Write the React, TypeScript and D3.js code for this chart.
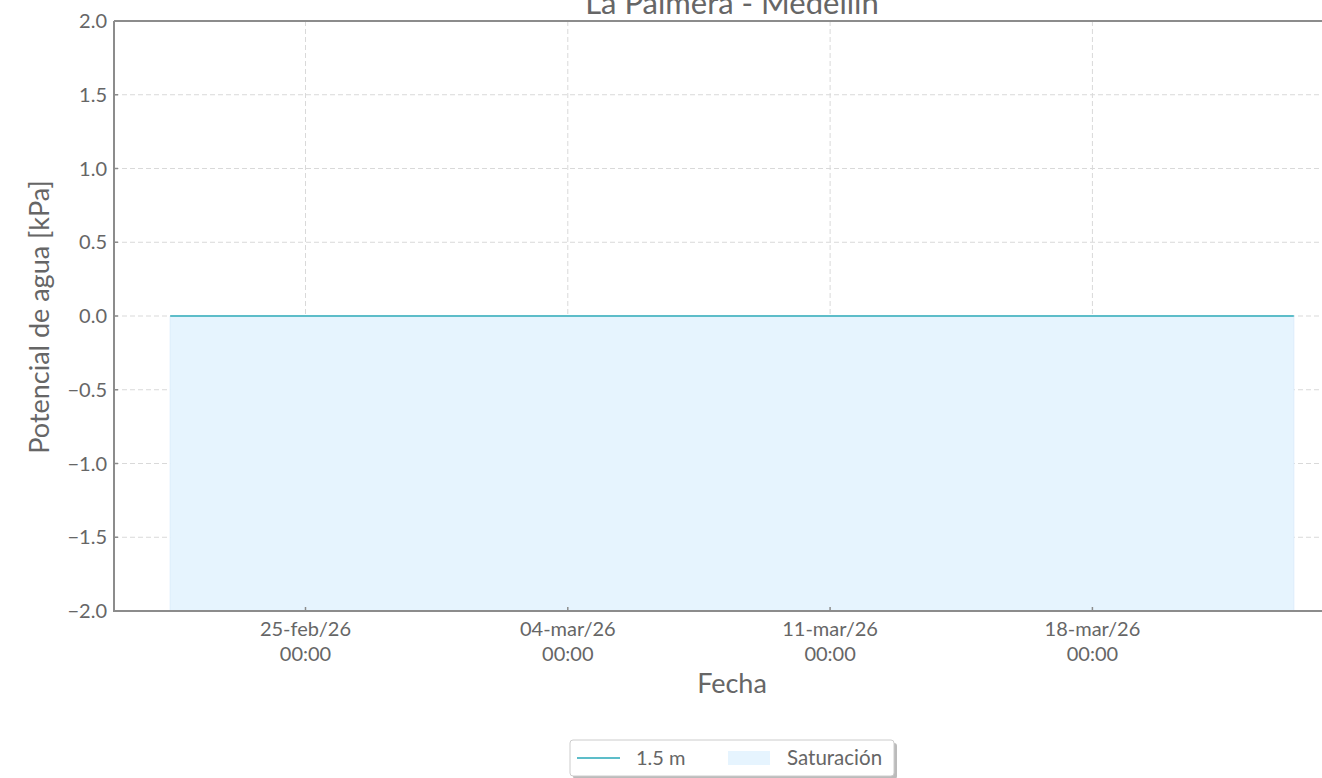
import React from "react";
import * as d3 from "d3";

const title = "La Palmera - Medellín";
const xLabel = "Fecha";
const yLabel = "Potencial de agua [kPa]";
const seriesName = "1.5 m";
const fillName = "Saturación";
// Serie 1.5 m (constant at 0 kPa over the period)
const times = ["2026-02-21T09:20", "2026-03-01T00:00", "2026-03-08T00:00", "2026-03-15T00:00", "2026-03-23T09:00"];
const values = [0, 0, 0, 0, 0];
const yTicks = [2.0, 1.5, 1.0, 0.5, 0.0, -0.5, -1.0, -1.5, -2.0];
const xTickDates = ["2026-02-25T00:00", "2026-03-04T00:00", "2026-03-11T00:00", "2026-03-18T00:00"];
const months = ["ene", "feb", "mar", "abr", "may", "jun", "jul", "ago", "sep", "oct", "nov", "dic"];

const W = 1322, H = 778;
const left = 114, top = 21, bottom = 611, right = 1350;
const FONT = "Lato, 'Open Sans', sans-serif";
const TEXT = "#666";
const AXIS = "#8c8c8c";
const LINE = "#5dbdc9";
const FILL = "#e6f4fe";

export default function App() {
  const parsed = times.map((t) => new Date(t));
  const ext = d3.extent(parsed) as [Date, Date];
  const span = ext[1].getTime() - ext[0].getTime();
  const x = d3.scaleTime()
    .domain([new Date(ext[0].getTime() - span * 0.05), new Date(ext[1].getTime() + span * 0.05)])
    .range([left, right]);
  const y = d3.scaleLinear().domain([-2, 2]).range([bottom, top]);
  const pts = parsed.map((d, i) => ({ d, v: values[i] }));
  const line = d3.line<{ d: Date; v: number }>().x((p) => x(p.d)).y((p) => y(p.v));
  const area = d3.area<{ d: Date; v: number }>().x((p) => x(p.d)).y0(y(-2)).y1((p) => y(p.v));
  const fmt = (v: number) => (v < 0 ? "\u2212" : "") + Math.abs(v).toFixed(1);
  const xt = xTickDates.map((t) => new Date(t));
  const dl = (d: Date) => `${String(d.getDate()).padStart(2, "0")}-${months[d.getMonth()]}/${String(d.getFullYear()).slice(2)}`;
  const tl = (d: Date) => `${String(d.getHours()).padStart(2, "0")}:${String(d.getMinutes()).padStart(2, "0")}`;

  return (
    <svg width={W} height={H} style={{ position: "absolute", left: 0, top: 0, background: "#fff" }} fontFamily={FONT}>
      <rect width={W} height={H} fill="#fff" />
      <text x={(left + right) / 2} y={14} textAnchor="middle" fontSize={31} fill={TEXT}>{title}</text>
      {/* grid */}
      {yTicks.map((v) => (
        <line key={"gy" + v} x1={left} x2={right} y1={y(v)} y2={y(v)} stroke="#d9d9d9" strokeDasharray="5,3" strokeWidth={1} />
      ))}
      {xt.map((d, i) => (
        <line key={"gx" + i} x1={x(d)} x2={x(d)} y1={top} y2={bottom} stroke="#d9d9d9" strokeDasharray="5,3" strokeWidth={1} />
      ))}
      <path d={area(pts) || ""} fill={FILL} stroke="#dcedfb" strokeWidth={1} />
      <path d={line(pts) || ""} fill="none" stroke={LINE} strokeWidth={2} />
      {/* spines */}
      <line x1={left} x2={left} y1={top} y2={bottom} stroke={AXIS} strokeWidth={2} />
      <line x1={left} x2={right} y1={top} y2={top} stroke={AXIS} strokeWidth={2} />
      <line x1={left - 1} x2={right} y1={bottom} y2={bottom} stroke={AXIS} strokeWidth={2} />
      {/* y ticks */}
      {yTicks.map((v) => (
        <g key={"ty" + v}>
          <line x1={left} x2={left + 4} y1={y(v)} y2={y(v)} stroke={AXIS} strokeWidth={1.5} />
          <text x={left - 7} y={y(v)} dy="0.35em" textAnchor="end" fontSize={20} fill={TEXT}>{fmt(v)}</text>
        </g>
      ))}
      {xt.map((d, i) => (
        <g key={"tx" + i}>
          <line x1={x(d)} x2={x(d)} y1={bottom} y2={bottom - 4} stroke={AXIS} strokeWidth={1.5} />
          <text x={x(d)} y={636} textAnchor="middle" fontSize={20} fill={TEXT}>{dl(d)}</text>
          <text x={x(d)} y={661} textAnchor="middle" fontSize={20} fill={TEXT}>{tl(d)}</text>
        </g>
      ))}
      <text x={(left + right) / 2} y={693} textAnchor="middle" fontSize={27} fill={TEXT}>{xLabel}</text>
      <text transform={`translate(49,317) rotate(-90)`} textAnchor="middle" fontSize={27} fill={TEXT}>{yLabel}</text>
      {/* legend */}
      <g>
        <rect x={573} y={743} width={324} height={36} rx={3} fill="#bbb" />
        <rect x={570} y={740} width={324} height={36} rx={3} fill="#fff" stroke="#ccc" strokeWidth={1} />
        <line x1={577} x2={620} y1={758} y2={758} stroke={LINE} strokeWidth={2} />
        <text x={636} y={758} dy="0.35em" fontSize={20} fill={TEXT}>{seriesName}</text>
        <rect x={728} y={751} width={42} height={14} fill={FILL} />
        <text x={787} y={758} dy="0.35em" fontSize={20.5} fill={TEXT}>{fillName}</text>
      </g>
    </svg>
  );
}
